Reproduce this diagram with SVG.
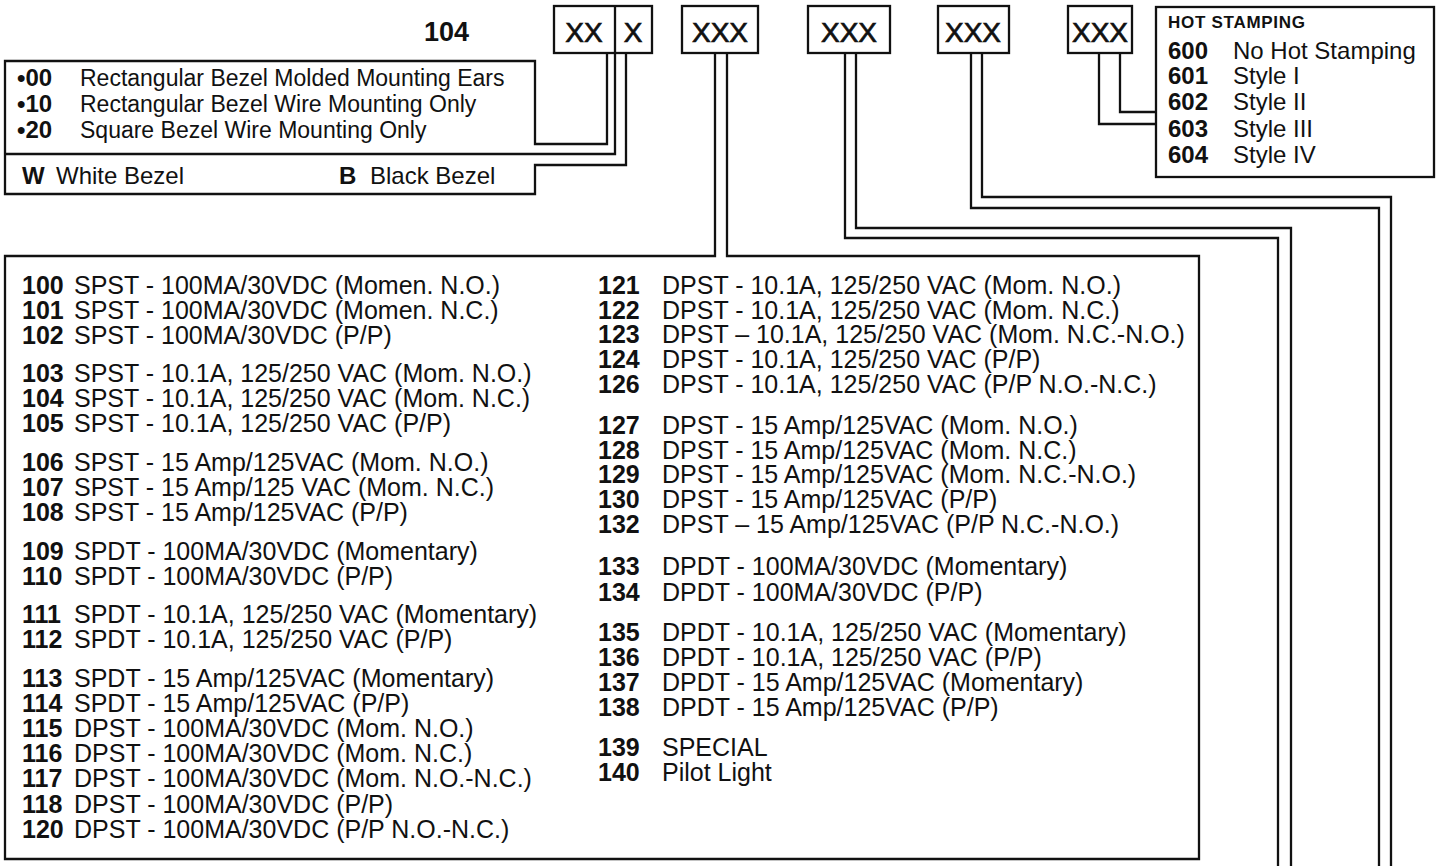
<svg xmlns="http://www.w3.org/2000/svg" width="1439" height="866" viewBox="0 0 1439 866">
<style>
text{font-family:"Liberation Sans",Arial,sans-serif;fill:#111}
.b{font-weight:bold}
.t{font-size:25px}
.s{font-size:24px}
.s3{font-size:23px}
.code{font-size:28px;text-anchor:middle;stroke:#111;stroke-width:0.7}
.ln{fill:none;stroke:#111;stroke-width:2.3;stroke-linejoin:miter}
.box{fill:#fff;stroke:#111;stroke-width:2.3}
</style>
<rect width="1439" height="866" fill="#fff"/>

<g id="connectors">
<path class="ln" d="M607,53 V144 H535 V61 H5 V194 H535 V165 H626 V53"/>
<path class="ln" d="M615,6 V154 H5"/>
<path class="ln" d="M715,53 V256 H5 V859 H1199 V256 H727 V53"/>
<path class="ln" d="M845,53 V238 H1278 V866"/>
<path class="ln" d="M856,53 V228 H1291 V866"/>
<path class="ln" d="M971,53 V208 H1379 V866"/>
<path class="ln" d="M982,53 V197 H1391 V866"/>
<path class="ln" d="M1099,53 V124 H1156"/>
<path class="ln" d="M1120,53 V112 H1156"/>
</g>

<g id="part-number">
<text class="b" x="424" y="41" font-size="27">104</text>
<g id="code-xx">
<rect class="box" x="554" y="6" width="98" height="47"/>
<line class="ln" x1="615" y1="6" x2="615" y2="53"/>
<text class="code" x="584" y="42">XX</text>
<text class="code" x="633" y="42">X</text>
</g>
<g id="code-switch"><rect class="box" x="682" y="6" width="76" height="47"/><text class="code" x="720" y="42">XXX</text></g>
<g id="code-2"><rect class="box" x="808" y="6" width="82" height="47"/><text class="code" x="849" y="42">XXX</text></g>
<g id="code-3"><rect class="box" x="938" y="6" width="71" height="47"/><text class="code" x="973" y="42">XXX</text></g>
<g id="code-hot"><rect class="box" x="1068" y="6" width="64" height="47"/><text class="code" x="1100" y="42">XXX</text></g>
</g>

<g id="bezel-box">
<text class="s b" x="17" y="86">•00</text><text class="s3" x="80" y="86">Rectangular Bezel Molded Mounting Ears</text>
<text class="s b" x="17" y="112">•10</text><text class="s3" x="80" y="112">Rectangular Bezel Wire Mounting Only</text>
<text class="s b" x="17" y="138">•20</text><text class="s3" x="80" y="138">Square Bezel Wire Mounting Only</text>
<text class="s b" x="22" y="184">W</text><text class="s" x="56" y="184">White Bezel</text>
<text class="s b" x="339" y="184">B</text><text class="s" x="370" y="184">Black Bezel</text>
</g>

<g id="hot-stamping-box">
<rect class="box" x="1156" y="7" width="278" height="170"/>
<text class="b" x="1168" y="28" font-size="17" textLength="137">HOT STAMPING</text>
<text class="s b" x="1168" y="59">600</text><text class="s" x="1233" y="59">No Hot Stamping</text>
<text class="s b" x="1168" y="84">601</text><text class="s" x="1233" y="84">Style I</text>
<text class="s b" x="1168" y="110">602</text><text class="s" x="1233" y="110">Style II</text>
<text class="s b" x="1168" y="137">603</text><text class="s" x="1233" y="137">Style III</text>
<text class="s b" x="1168" y="163">604</text><text class="s" x="1233" y="163">Style IV</text>
</g>

<g id="switch-box">
<text class="t b" x="22" y="294">100</text><text class="t" x="74" y="294">SPST - 100MA/30VDC (Momen. N.O.)</text>
<text class="t b" x="22" y="319">101</text><text class="t" x="74" y="319">SPST - 100MA/30VDC (Momen. N.C.)</text>
<text class="t b" x="22" y="344">102</text><text class="t" x="74" y="344">SPST - 100MA/30VDC (P/P)</text>
<text class="t b" x="22" y="382">103</text><text class="t" x="74" y="382">SPST - 10.1A, 125/250 VAC (Mom. N.O.)</text>
<text class="t b" x="22" y="407">104</text><text class="t" x="74" y="407">SPST - 10.1A, 125/250 VAC (Mom. N.C.)</text>
<text class="t b" x="22" y="432">105</text><text class="t" x="74" y="432">SPST - 10.1A, 125/250 VAC (P/P)</text>
<text class="t b" x="22" y="471">106</text><text class="t" x="74" y="471">SPST - 15 Amp/125VAC (Mom. N.O.)</text>
<text class="t b" x="22" y="496">107</text><text class="t" x="74" y="496">SPST - 15 Amp/125 VAC (Mom. N.C.)</text>
<text class="t b" x="22" y="521">108</text><text class="t" x="74" y="521">SPST - 15 Amp/125VAC (P/P)</text>
<text class="t b" x="22" y="560">109</text><text class="t" x="74" y="560">SPDT - 100MA/30VDC (Momentary)</text>
<text class="t b" x="22" y="585">110</text><text class="t" x="74" y="585">SPDT - 100MA/30VDC (P/P)</text>
<text class="t b" x="22" y="623">111</text><text class="t" x="74" y="623">SPDT - 10.1A, 125/250 VAC (Momentary)</text>
<text class="t b" x="22" y="648">112</text><text class="t" x="74" y="648">SPDT - 10.1A, 125/250 VAC (P/P)</text>
<text class="t b" x="22" y="687">113</text><text class="t" x="74" y="687">SPDT - 15 Amp/125VAC (Momentary)</text>
<text class="t b" x="22" y="712">114</text><text class="t" x="74" y="712">SPDT - 15 Amp/125VAC (P/P)</text>
<text class="t b" x="22" y="737">115</text><text class="t" x="74" y="737">DPST - 100MA/30VDC (Mom. N.O.)</text>
<text class="t b" x="22" y="762">116</text><text class="t" x="74" y="762">DPST - 100MA/30VDC (Mom. N.C.)</text>
<text class="t b" x="22" y="787">117</text><text class="t" x="74" y="787">DPST - 100MA/30VDC (Mom. N.O.-N.C.)</text>
<text class="t b" x="22" y="813">118</text><text class="t" x="74" y="813">DPST - 100MA/30VDC (P/P)</text>
<text class="t b" x="22" y="838">120</text><text class="t" x="74" y="838">DPST - 100MA/30VDC (P/P N.O.-N.C.)</text>

<text class="t b" x="598" y="294">121</text><text class="t" x="662" y="294">DPST - 10.1A, 125/250 VAC (Mom. N.O.)</text>
<text class="t b" x="598" y="319">122</text><text class="t" x="662" y="319">DPST - 10.1A, 125/250 VAC (Mom. N.C.)</text>
<text class="t b" x="598" y="343">123</text><text class="t" x="662" y="343">DPST – 10.1A, 125/250 VAC (Mom. N.C.-N.O.)</text>
<text class="t b" x="598" y="368">124</text><text class="t" x="662" y="368">DPST - 10.1A, 125/250 VAC (P/P)</text>
<text class="t b" x="598" y="393">126</text><text class="t" x="662" y="393">DPST - 10.1A, 125/250 VAC (P/P N.O.-N.C.)</text>
<text class="t b" x="598" y="434">127</text><text class="t" x="662" y="434">DPST - 15 Amp/125VAC (Mom. N.O.)</text>
<text class="t b" x="598" y="459">128</text><text class="t" x="662" y="459">DPST - 15 Amp/125VAC (Mom. N.C.)</text>
<text class="t b" x="598" y="483">129</text><text class="t" x="662" y="483">DPST - 15 Amp/125VAC (Mom. N.C.-N.O.)</text>
<text class="t b" x="598" y="508">130</text><text class="t" x="662" y="508">DPST - 15 Amp/125VAC (P/P)</text>
<text class="t b" x="598" y="533">132</text><text class="t" x="662" y="533">DPST – 15 Amp/125VAC (P/P N.C.-N.O.)</text>
<text class="t b" x="598" y="575">133</text><text class="t" x="662" y="575">DPDT - 100MA/30VDC (Momentary)</text>
<text class="t b" x="598" y="601">134</text><text class="t" x="662" y="601">DPDT - 100MA/30VDC (P/P)</text>
<text class="t b" x="598" y="641">135</text><text class="t" x="662" y="641">DPDT - 10.1A, 125/250 VAC (Momentary)</text>
<text class="t b" x="598" y="666">136</text><text class="t" x="662" y="666">DPDT - 10.1A, 125/250 VAC (P/P)</text>
<text class="t b" x="598" y="691">137</text><text class="t" x="662" y="691">DPDT - 15 Amp/125VAC (Momentary)</text>
<text class="t b" x="598" y="716">138</text><text class="t" x="662" y="716">DPDT - 15 Amp/125VAC (P/P)</text>
<text class="t b" x="598" y="756">139</text><text class="t" x="662" y="756">SPECIAL</text>
<text class="t b" x="598" y="781">140</text><text class="t" x="662" y="781">Pilot Light</text>
</g>
</svg>
